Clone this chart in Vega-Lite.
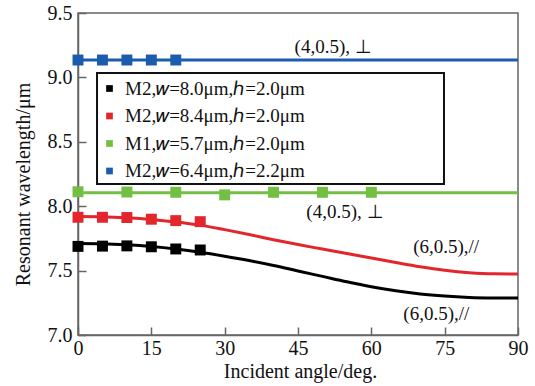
{
  "$schema": "https://vega.github.io/schema/vega-lite/v6.json",
  "width": 440,
  "height": 322,
  "autosize": {"type": "none"},
  "padding": {"left": 78, "top": 13, "right": 17, "bottom": 51},
  "background": "white",
  "config": {
    "view": {"stroke": "#666666", "strokeWidth": 1.5},
    "axis": {
      "grid": false,
      "domainColor": "#666666",
      "domainWidth": 1.5,
      "tickColor": "#666666",
      "tickWidth": 1.5,
      "tickSize": -8,
      "labelFlush": false,
      "labelFont": "Liberation Serif",
      "labelFontSize": 20,
      "labelColor": "#111111",
      "titleFont": "Liberation Serif",
      "titleFontSize": 20,
      "titleFontWeight": "normal",
      "titleColor": "#111111"
    },
    "legend": {
      "labelFont": "Liberation Serif",
      "labelFontSize": 19,
      "labelColor": "#111111"
    }
  },
  "datasets": {
    "lines": [
      {"series": "M2,𝑤=6.4μm,ℎ=2.2μm", "angle": 0, "wl": 9.135},
      {"series": "M2,𝑤=6.4μm,ℎ=2.2μm", "angle": 90, "wl": 9.135},
      {"series": "M1,𝑤=5.7μm,ℎ=2.0μm", "angle": 0, "wl": 8.105},
      {"series": "M1,𝑤=5.7μm,ℎ=2.0μm", "angle": 90, "wl": 8.105},
      {"series": "M2,𝑤=8.4μm,ℎ=2.0μm", "angle": 0, "wl": 7.92},
      {"series": "M2,𝑤=8.4μm,ℎ=2.0μm", "angle": 5, "wl": 7.918},
      {"series": "M2,𝑤=8.4μm,ℎ=2.0μm", "angle": 10, "wl": 7.91},
      {"series": "M2,𝑤=8.4μm,ℎ=2.0μm", "angle": 15, "wl": 7.897},
      {"series": "M2,𝑤=8.4μm,ℎ=2.0μm", "angle": 20, "wl": 7.878},
      {"series": "M2,𝑤=8.4μm,ℎ=2.0μm", "angle": 25, "wl": 7.853},
      {"series": "M2,𝑤=8.4μm,ℎ=2.0μm", "angle": 30, "wl": 7.818},
      {"series": "M2,𝑤=8.4μm,ℎ=2.0μm", "angle": 35, "wl": 7.78},
      {"series": "M2,𝑤=8.4μm,ℎ=2.0μm", "angle": 40, "wl": 7.74},
      {"series": "M2,𝑤=8.4μm,ℎ=2.0μm", "angle": 45, "wl": 7.702},
      {"series": "M2,𝑤=8.4μm,ℎ=2.0μm", "angle": 50, "wl": 7.667},
      {"series": "M2,𝑤=8.4μm,ℎ=2.0μm", "angle": 55, "wl": 7.632},
      {"series": "M2,𝑤=8.4μm,ℎ=2.0μm", "angle": 60, "wl": 7.598},
      {"series": "M2,𝑤=8.4μm,ℎ=2.0μm", "angle": 65, "wl": 7.563},
      {"series": "M2,𝑤=8.4μm,ℎ=2.0μm", "angle": 70, "wl": 7.53},
      {"series": "M2,𝑤=8.4μm,ℎ=2.0μm", "angle": 75, "wl": 7.503},
      {"series": "M2,𝑤=8.4μm,ℎ=2.0μm", "angle": 80, "wl": 7.484},
      {"series": "M2,𝑤=8.4μm,ℎ=2.0μm", "angle": 85, "wl": 7.475},
      {"series": "M2,𝑤=8.4μm,ℎ=2.0μm", "angle": 90, "wl": 7.474},
      {"series": "M2,𝑤=8.0μm,ℎ=2.0μm", "angle": 0, "wl": 7.71},
      {"series": "M2,𝑤=8.0μm,ℎ=2.0μm", "angle": 5, "wl": 7.708},
      {"series": "M2,𝑤=8.0μm,ℎ=2.0μm", "angle": 10, "wl": 7.7},
      {"series": "M2,𝑤=8.0μm,ℎ=2.0μm", "angle": 15, "wl": 7.687},
      {"series": "M2,𝑤=8.0μm,ℎ=2.0μm", "angle": 20, "wl": 7.668},
      {"series": "M2,𝑤=8.0μm,ℎ=2.0μm", "angle": 25, "wl": 7.643},
      {"series": "M2,𝑤=8.0μm,ℎ=2.0μm", "angle": 30, "wl": 7.612},
      {"series": "M2,𝑤=8.0μm,ℎ=2.0μm", "angle": 35, "wl": 7.578},
      {"series": "M2,𝑤=8.0μm,ℎ=2.0μm", "angle": 40, "wl": 7.54},
      {"series": "M2,𝑤=8.0μm,ℎ=2.0μm", "angle": 45, "wl": 7.497},
      {"series": "M2,𝑤=8.0μm,ℎ=2.0μm", "angle": 50, "wl": 7.455},
      {"series": "M2,𝑤=8.0μm,ℎ=2.0μm", "angle": 55, "wl": 7.413},
      {"series": "M2,𝑤=8.0μm,ℎ=2.0μm", "angle": 60, "wl": 7.375},
      {"series": "M2,𝑤=8.0μm,ℎ=2.0μm", "angle": 65, "wl": 7.343},
      {"series": "M2,𝑤=8.0μm,ℎ=2.0μm", "angle": 70, "wl": 7.318},
      {"series": "M2,𝑤=8.0μm,ℎ=2.0μm", "angle": 75, "wl": 7.302},
      {"series": "M2,𝑤=8.0μm,ℎ=2.0μm", "angle": 80, "wl": 7.292},
      {"series": "M2,𝑤=8.0μm,ℎ=2.0μm", "angle": 85, "wl": 7.288},
      {"series": "M2,𝑤=8.0μm,ℎ=2.0μm", "angle": 90, "wl": 7.287}
    ],
    "points": [
      {"series": "M2,𝑤=6.4μm,ℎ=2.2μm", "angle": 0, "wl": 9.135},
      {"series": "M2,𝑤=6.4μm,ℎ=2.2μm", "angle": 5, "wl": 9.135},
      {"series": "M2,𝑤=6.4μm,ℎ=2.2μm", "angle": 10, "wl": 9.135},
      {"series": "M2,𝑤=6.4μm,ℎ=2.2μm", "angle": 15, "wl": 9.135},
      {"series": "M2,𝑤=6.4μm,ℎ=2.2μm", "angle": 20, "wl": 9.135},
      {"series": "M1,𝑤=5.7μm,ℎ=2.0μm", "angle": 0, "wl": 8.112},
      {"series": "M1,𝑤=5.7μm,ℎ=2.0μm", "angle": 10, "wl": 8.11},
      {"series": "M1,𝑤=5.7μm,ℎ=2.0μm", "angle": 20, "wl": 8.108},
      {"series": "M1,𝑤=5.7μm,ℎ=2.0μm", "angle": 30, "wl": 8.088},
      {"series": "M1,𝑤=5.7μm,ℎ=2.0μm", "angle": 40, "wl": 8.108},
      {"series": "M1,𝑤=5.7μm,ℎ=2.0μm", "angle": 50, "wl": 8.108},
      {"series": "M1,𝑤=5.7μm,ℎ=2.0μm", "angle": 60, "wl": 8.108},
      {"series": "M2,𝑤=8.4μm,ℎ=2.0μm", "angle": 0, "wl": 7.914},
      {"series": "M2,𝑤=8.4μm,ℎ=2.0μm", "angle": 5, "wl": 7.914},
      {"series": "M2,𝑤=8.4μm,ℎ=2.0μm", "angle": 10, "wl": 7.912},
      {"series": "M2,𝑤=8.4μm,ℎ=2.0μm", "angle": 15, "wl": 7.899},
      {"series": "M2,𝑤=8.4μm,ℎ=2.0μm", "angle": 20, "wl": 7.888},
      {"series": "M2,𝑤=8.4μm,ℎ=2.0μm", "angle": 25, "wl": 7.88},
      {"series": "M2,𝑤=8.0μm,ℎ=2.0μm", "angle": 0, "wl": 7.688},
      {"series": "M2,𝑤=8.0μm,ℎ=2.0μm", "angle": 5, "wl": 7.69},
      {"series": "M2,𝑤=8.0μm,ℎ=2.0μm", "angle": 10, "wl": 7.692},
      {"series": "M2,𝑤=8.0μm,ℎ=2.0μm", "angle": 15, "wl": 7.685},
      {"series": "M2,𝑤=8.0μm,ℎ=2.0μm", "angle": 20, "wl": 7.668},
      {"series": "M2,𝑤=8.0μm,ℎ=2.0μm", "angle": 25, "wl": 7.66}
    ],
    "notes": [
      {"label": "(4,0.5), ⊥", "angle": 52.2, "wl": 9.236},
      {"label": "(4,0.5), ⊥", "angle": 54.6, "wl": 7.955},
      {"label": "(6,0.5),//", "angle": 75.3, "wl": 7.68},
      {"label": "(6,0.5),//", "angle": 73.3, "wl": 7.16}
    ]
  },
  "layer": [
    {
      "data": {"name": "lines"},
      "mark": {"type": "line", "strokeWidth": 3, "interpolate": "monotone"},
      "encoding": {
        "x": {
          "field": "angle",
          "type": "quantitative",
          "scale": {"domain": [0, 90], "nice": false, "zero": false},
          "axis": {
            "title": "Incident angle/deg.",
            "values": [0, 15, 30, 45, 60, 75, 90],
            "labelPadding": 11,
            "titleBaseline": "alphabetic",
            "titleY": 42,
            "titleX": 222
          }
        },
        "y": {
          "field": "wl",
          "type": "quantitative",
          "scale": {"domain": [7, 9.5], "nice": false, "zero": false},
          "axis": {
            "title": "Resonant wavelength/μm",
            "values": [7, 7.5, 8, 8.5, 9, 9.5],
            "format": ".1f",
            "labelPadding": 14,
            "titleX": -45,
            "titleY": 171
          }
        },
        "color": {
          "field": "series",
          "type": "nominal",
          "scale": {
            "domain": ["M2,𝑤=8.0μm,ℎ=2.0μm", "M2,𝑤=8.4μm,ℎ=2.0μm", "M1,𝑤=5.7μm,ℎ=2.0μm", "M2,𝑤=6.4μm,ℎ=2.2μm"],
            "range": ["#000000", "#e3262b", "#72bf44", "#1b5cae"]
          },
          "legend": {
            "title": null,
            "orient": "none",
            "legendX": 22,
            "legendY": 66,
            "symbolType": "square",
            "symbolSize": 45,
            "symbolStrokeWidth": 0,
            "symbolFillColor": null,
            "labelOffset": 6,
            "rowPadding": 7.5,
            "padding": 0,
            "labelLimit": 400
          }
        }
      }
    },
    {
      "data": {"values": [{"box": "legend"}]},
      "mark": {"type": "rect", "fill": "white", "stroke": "#111111", "strokeWidth": 2},
      "encoding": {
        "x": {"datum": 3.89, "type": "quantitative"},
        "x2": {"datum": 74.86},
        "y": {"datum": 9.034, "type": "quantitative"},
        "y2": {"datum": 8.172}
      }
    },
    {
      "data": {"name": "points"},
      "mark": {"type": "square", "size": 120, "opacity": 1, "filled": true},
      "encoding": {
        "x": {"field": "angle", "type": "quantitative"},
        "y": {"field": "wl", "type": "quantitative"},
        "color": {"field": "series", "type": "nominal"}
      }
    },
    {
      "data": {"name": "notes"},
      "mark": {"type": "text", "font": "Liberation Serif", "fontSize": 19, "color": "#111111", "baseline": "middle", "align": "center"},
      "encoding": {
        "x": {"field": "angle", "type": "quantitative"},
        "y": {"field": "wl", "type": "quantitative"},
        "text": {"field": "label"}
      }
    }
  ]
}
